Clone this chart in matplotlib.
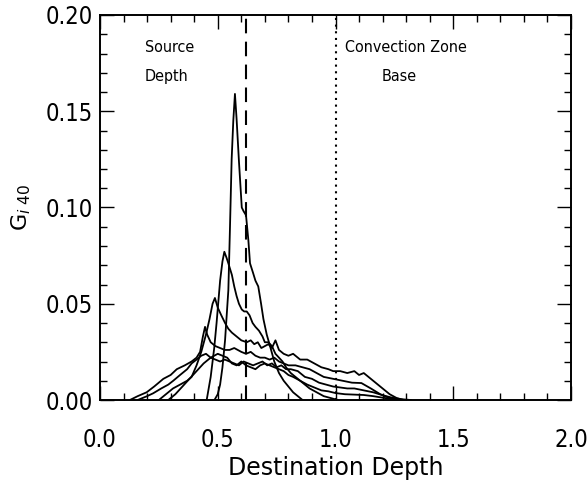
import matplotlib
matplotlib.use("Agg")
import matplotlib.pyplot as plt
from matplotlib.ticker import MultipleLocator
from matplotlib import font_manager
from matplotlib.font_manager import FontProperties

xA = [0.486,0.50,0.51,0.52,0.531,0.545,0.552,0.559,0.566,0.573,0.58,0.59,0.602,0.61,0.62,0.63,0.637,0.65,0.66,0.672,0.684,0.694,0.708,0.722,0.74,0.76,0.78,0.80,0.82,0.84,0.86]
yA = [0.000,0.003,0.008,0.017,0.031,0.057,0.090,0.125,0.145,0.159,0.146,0.124,0.100,0.098,0.096,0.083,0.071,0.066,0.062,0.059,0.050,0.042,0.034,0.028,0.020,0.014,0.010,0.007,0.004,0.002,0.000]

xB = [0.453,0.47,0.485,0.495,0.51,0.52,0.528,0.537,0.545,0.56,0.57,0.58,0.59,0.602,0.612,0.623,0.635,0.648,0.66,0.675,0.69,0.70,0.715,0.73,0.745,0.76,0.775,0.79,0.81,0.83,0.85,0.87,0.89,0.92,0.95,0.98,1.01]
yB = [0.000,0.012,0.027,0.040,0.062,0.072,0.077,0.074,0.071,0.065,0.059,0.054,0.050,0.047,0.046,0.046,0.044,0.040,0.038,0.036,0.033,0.030,0.030,0.028,0.024,0.022,0.020,0.017,0.014,0.012,0.010,0.008,0.006,0.004,0.002,0.001,0.000]

xC = [0.25,0.28,0.31,0.34,0.37,0.389,0.41,0.43,0.45,0.465,0.478,0.488,0.50,0.515,0.531,0.545,0.56,0.58,0.60,0.623,0.64,0.655,0.67,0.685,0.70,0.715,0.73,0.745,0.76,0.78,0.80,0.82,0.85,0.88,0.91,0.94,0.97,0.99,1.02,1.05,1.08,1.10,1.12,1.14,1.17,1.20,1.23,1.26,1.29]
yC = [0.000,0.003,0.006,0.008,0.010,0.012,0.018,0.025,0.034,0.042,0.050,0.053,0.048,0.044,0.040,0.037,0.035,0.033,0.031,0.030,0.031,0.029,0.030,0.027,0.028,0.029,0.027,0.031,0.026,0.024,0.023,0.024,0.021,0.021,0.019,0.017,0.016,0.015,0.015,0.014,0.015,0.013,0.014,0.012,0.009,0.006,0.003,0.001,0.000]

xD = [0.127,0.16,0.198,0.23,0.269,0.30,0.326,0.36,0.389,0.41,0.425,0.437,0.446,0.455,0.47,0.49,0.51,0.53,0.55,0.57,0.60,0.62,0.64,0.66,0.68,0.70,0.72,0.74,0.76,0.78,0.80,0.83,0.86,0.89,0.92,0.95,0.99,1.03,1.07,1.11,1.15,1.19,1.23,1.27]
yD = [0.000,0.002,0.004,0.007,0.011,0.013,0.016,0.018,0.020,0.022,0.025,0.033,0.038,0.034,0.030,0.028,0.027,0.026,0.026,0.027,0.025,0.024,0.025,0.023,0.022,0.022,0.021,0.022,0.020,0.019,0.018,0.018,0.017,0.016,0.014,0.012,0.011,0.010,0.009,0.0088,0.006,0.003,0.001,0.000]

xE = [0.16,0.20,0.226,0.26,0.29,0.311,0.34,0.37,0.389,0.41,0.43,0.45,0.47,0.49,0.51,0.53,0.55,0.57,0.59,0.61,0.63,0.65,0.67,0.69,0.71,0.73,0.75,0.77,0.79,0.81,0.84,0.87,0.90,0.93,0.96,0.99,1.02,1.05,1.08,1.12,1.16,1.20,1.24,1.28,1.32]
yE = [0.000,0.002,0.0035,0.006,0.008,0.010,0.013,0.016,0.019,0.021,0.023,0.024,0.022,0.021,0.020,0.021,0.020,0.019,0.018,0.020,0.019,0.018,0.019,0.020,0.018,0.019,0.017,0.018,0.016,0.016,0.015,0.012,0.011,0.009,0.008,0.007,0.0065,0.006,0.006,0.005,0.004,0.0025,0.0012,0.0004,0.000]

xF = [0.29,0.32,0.35,0.38,0.41,0.44,0.47,0.50,0.52,0.54,0.56,0.58,0.60,0.62,0.64,0.66,0.68,0.70,0.72,0.74,0.76,0.78,0.80,0.82,0.85,0.88,0.91,0.94,0.97,1.00,1.04,1.08,1.12,1.16,1.20,1.24,1.28]
yF = [0.000,0.003,0.007,0.011,0.015,0.019,0.022,0.024,0.023,0.022,0.019,0.018,0.020,0.018,0.017,0.016,0.018,0.019,0.018,0.017,0.016,0.015,0.013,0.012,0.010,0.008,0.0065,0.005,0.0045,0.0036,0.003,0.0028,0.0026,0.002,0.0012,0.0005,0.000]

source_depth = 0.62
cz_base = 1.0
xticks = [0.0, 0.5, 1.0, 1.5, 2.0]
yticks = [0.00, 0.05, 0.10, 0.15, 0.20]

plt.rcParams['font.family'] = ['DejaVu Sans']

cond_path = None
for f in font_manager.fontManager.ttflist:
    if f.name == 'DejaVu Sans' and f.stretch == 'condensed' and f.weight in (400, 'normal') and f.style == 'normal':
        cond_path = f.fname
        break

def fp(size):
    if cond_path is not None:
        return FontProperties(fname=cond_path, size=size)
    return FontProperties(family='DejaVu Sans', size=size * 0.9)

fig = plt.figure(figsize=(5.88, 4.91), dpi=100)
ax = fig.add_axes([100/588, 91/491, 471/588, 385/491])

for xs, ys in [(xA, yA), (xB, yB), (xC, yC), (xD, yD), (xE, yE), (xF, yF)]:
    ax.plot(xs, ys, color='black', lw=1.3)

ax.axvline(source_depth, color='black', lw=1.5, linestyle=(0, (7, 4)))
ax.axvline(cz_base, color='black', lw=1.5, linestyle=(0, (1, 2.2)))

ax.set_xlim(0, 2.0)
ax.set_ylim(0, 0.20)
ax.set_xticks(xticks)
ax.set_xticklabels([f"{v:.1f}" for v in xticks], fontproperties=fp(17))
ax.set_yticks(yticks)
ax.set_yticklabels([f"{v:.2f}" for v in yticks], fontproperties=fp(17))
ax.xaxis.set_minor_locator(MultipleLocator(0.1))
ax.yaxis.set_minor_locator(MultipleLocator(0.01))
ax.tick_params(which='both', direction='in', top=True, right=True, width=1.0)
ax.tick_params(axis='x', which='major', pad=20)
ax.tick_params(axis='y', which='major', pad=5)
ax.tick_params(which='major', length=10)
ax.tick_params(which='minor', length=5)
for s in ax.spines.values():
    s.set_linewidth(1.4)

ax.set_xlabel("Destination Depth", fontsize=17, labelpad=3)
ax.set_ylabel(r"G$_{i\ 40}$", fontsize=16, labelpad=9)

ax.text(0.19, 0.183, "Source", fontproperties=fp(11.5), va='center', ha='left')
ax.text(0.19, 0.168, "Depth", fontproperties=fp(11.5), va='center', ha='left')
ax.text(1.04, 0.183, "Convection Zone", fontproperties=fp(11.5), va='center', ha='left')
ax.text(1.195, 0.168, "Base", fontproperties=fp(11.5), va='center', ha='left')

fig.savefig("out.png", dpi=100)
